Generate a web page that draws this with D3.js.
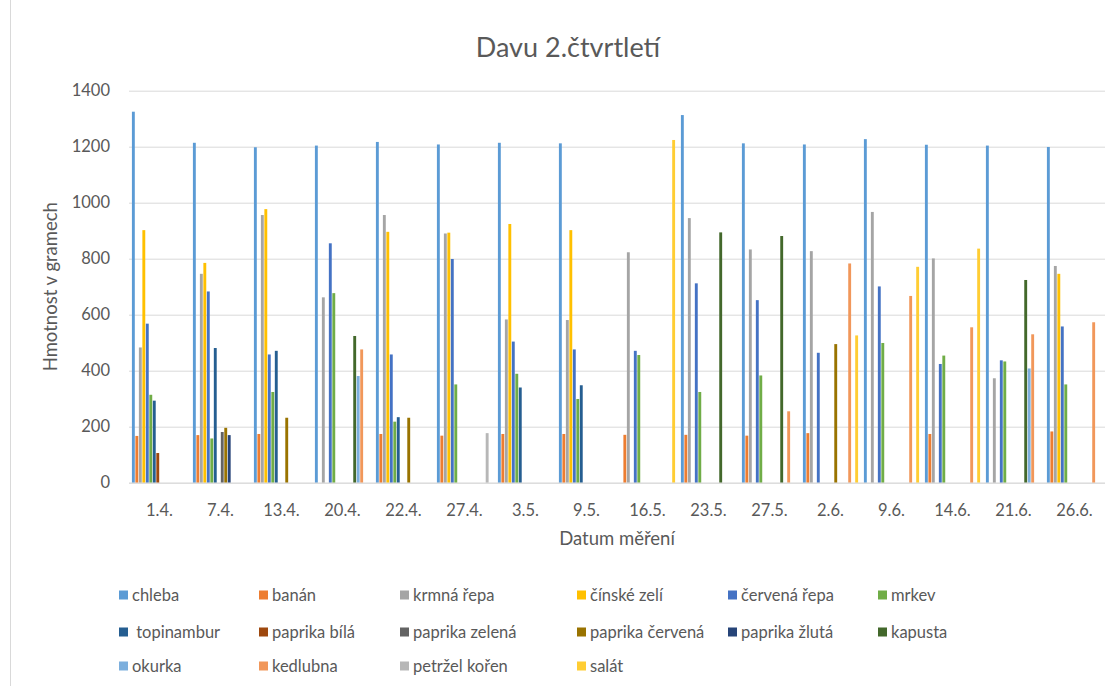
<!DOCTYPE html>
<html>
<head>
<meta charset="utf-8">
<script src="https://cdn.jsdelivr.net/npm/d3@7"></script>
<style>
  body { margin: 0; background: #fff; }
  svg { display: block; font-family: Lato, "Open Sans", sans-serif; }
  .grid line { stroke: #d9d9d9; stroke-width: 1; }
  .grid path { display: none; }
  .tick text { fill: #595959; }
</style>
</head>
<body>
<svg></svg>
<script>
//-----------------
// DATA
//-----------------
var dates = ["1.4.", "7.4.", "13.4.", "20.4.", "22.4.", "27.4.", "3.5.", "9.5.",
             "16.5.", "23.5.", "27.5.", "2.6.", "9.6.", "14.6.", "21.6.", "26.6."];

var seriesNames = ["chleba", "banán", "krmná řepa", "čínské zelí", "červená řepa", "mrkev",
                   " topinambur", "paprika bílá", "paprika zelená", "paprika červená", "paprika žlutá", "kapusta",
                   "okurka", "kedlubna", "petržel kořen", "salát"];

var chleba         = [1325, 1214, 1198, 1204, 1217, 1208, 1214, 1212, null, 1313, 1212, 1208, 1227, 1207, 1204, 1199];
var banan          = [167, 170, 174, null, 174, 168, 174, 174, 171, 171, 168, 177, null, 174, null, 183];
var krmnaRepa      = [483, 746, 956, 662, 956, 890, 583, 581, 823, 945, 833, 827, 967, 801, 373, 774];
var cinskeZeli     = [902, 785, 977, null, 896, 893, 924, 902, null, null, null, null, null, null, null, 746];
var cervenaRepa    = [568, 683, 458, 855, 458, 799, 504, 476, 471, 712, 652, 464, 701, 424, 437, 558];
var mrkev          = [314, 158, 324, 677, 218, 351, 389, 299, 456, 324, 383, null, 499, 454, 433, 351];
var topinambur     = [293, 481, 471, null, 234, null, 340, 348, null, null, null, null, null, null, null, null];
var paprikaBila    = [106, null, null, null, null, null, null, null, null, null, null, null, null, null, null, null];
var paprikaZelena  = [null, 181, null, null, null, null, null, null, null, null, null, null, null, null, null, null];
var paprikaCervena = [null, 196, 232, null, 232, null, null, null, null, null, null, 495, null, null, null, null];
var paprikaZluta   = [null, 170, null, null, null, null, null, null, null, null, null, null, null, null, null, null];
var kapusta        = [null, null, null, 524, null, null, null, null, null, 894, 881, null, null, null, 724, null];
var okurka         = [null, null, null, 381, null, null, null, null, null, null, null, null, null, null, 408, null];
var kedlubna       = [null, null, null, 476, null, null, null, null, null, null, 255, 783, 667, 555, 530, 573];
var petrzelKoren   = [null, null, null, null, null, 177, null, null, null, null, null, null, null, null, null, null];
var salat          = [null, null, null, null, null, null, null, null, 1224, null, null, 526, 771, 836, null, null];

var seriesValues = [chleba, banan, krmnaRepa, cinskeZeli, cervenaRepa, mrkev,
                    topinambur, paprikaBila, paprikaZelena, paprikaCervena, paprikaZluta, kapusta,
                    okurka, kedlubna, petrzelKoren, salat];

var colors = ["#5B9BD5", "#ED7D31", "#A5A5A5", "#FFC000", "#4472C4", "#70AD47",
              "#255E91", "#9E480E", "#636363", "#997300", "#264478", "#43682B",
              "#7CAFDD", "#F1975A", "#B7B7B7", "#FFCD33"];

var yTicks = [0, 200, 400, 600, 800, 1000, 1200, 1400];

//-----------------
// LAYOUT
//-----------------
var width = 1118, height = 686;
var plot = { left: 129, right: 1105, top: 90.7, bottom: 482.7 };

var svg = d3.select("svg")
    .attr("width", width)
    .attr("height", height);

// chart border
svg.append("line")
    .attr("x1", 10.5).attr("x2", 10.5)
    .attr("y1", 0).attr("y2", height)
    .attr("stroke", "#d9d9d9");

var x0 = d3.scaleBand()
    .domain(dates)
    .range([plot.left, plot.right])
    .padding(0);

var x1 = d3.scaleBand()
    .domain(d3.range(seriesNames.length))
    .range([0, x0.bandwidth()])
    .paddingInner(0)
    .paddingOuter(0.75);

var y = d3.scaleLinear()
    .domain([0, 1400])
    .range([plot.bottom, plot.top]);

//-----------------
// GRID + Y AXIS
//-----------------
var yAxis = svg.append("g")
    .attr("class", "grid")
    .attr("transform", "translate(" + plot.left + ",0)")
    .call(d3.axisLeft(y)
        .tickValues(yTicks)
        .tickSize(-(plot.right - plot.left))
        .tickPadding(19)
        .tickFormat(d3.format("d")));
yAxis.selectAll("text")
    .style("font-size", "16.5px")
    .style("font-family", "Lato, sans-serif");

//-----------------
// BARS
//-----------------
var groups = svg.append("g").selectAll("g")
    .data(dates)
    .join("g")
    .attr("transform", d => "translate(" + x0(d) + ",0)");

groups.selectAll("rect")
    .data((d, i) => seriesValues.map((vals, s) => ({ s: s, v: vals[i] })).filter(e => e.v != null))
    .join("rect")
    .attr("x", d => x1(d.s) + 0.3)
    .attr("width", x1.bandwidth() - 0.6)
    .attr("y", d => y(d.v))
    .attr("height", d => y(0) - y(d.v))
    .attr("fill", d => colors[d.s]);

// category axis line
svg.append("line")
    .attr("x1", plot.left).attr("x2", plot.right)
    .attr("y1", plot.bottom + 0.5).attr("y2", plot.bottom + 0.5)
    .attr("stroke", "#d9d9d9");

// x labels
svg.append("g").selectAll("text")
    .data(dates)
    .join("text")
    .attr("x", d => x0(d) + x0.bandwidth() / 2)
    .attr("y", 516)
    .attr("text-anchor", "middle")
    .attr("fill", "#595959")
    .style("font-size", "16.5px")
    .text(d => d);

//-----------------
// TITLES
//-----------------
svg.append("text")
    .attr("x", 568).attr("y", 57)
    .attr("text-anchor", "middle")
    .attr("fill", "#595959")
    .style("font-size", "27px")
    .text("Davu 2.čtvrtletí");

svg.append("text")
    .attr("x", (plot.left + plot.right) / 2).attr("y", 545)
    .attr("text-anchor", "middle")
    .attr("fill", "#595959")
    .style("font-size", "18.5px")
    .text("Datum měření");

svg.append("text")
    .attr("transform", "translate(57," + ((plot.top + plot.bottom) / 2) + ") rotate(-90)")
    .attr("text-anchor", "middle")
    .attr("fill", "#595959")
    .style("font-size", "18.5px")
    .text("Hmotnost v gramech");

//-----------------
// LEGEND
//-----------------
var legendCols = [119, 259, 400, 577, 728, 878];
var legendRows = [595, 632, 666];

var legend = svg.append("g").selectAll("g")
    .data(seriesNames)
    .join("g")
    .attr("transform", (d, i) => "translate(" + legendCols[i % 6] + "," + legendRows[Math.floor(i / 6)] + ")");

legend.append("rect")
    .attr("x", 0).attr("y", -4.5)
    .attr("width", 9).attr("height", 9)
    .attr("fill", (d, i) => colors[i]);

legend.append("text")
    .attr("x", 13).attr("y", 6)
    .attr("fill", "#595959")
    .style("font-size", "16.5px")
    .style("white-space", "pre")
    .text(d => d);
</script>
</body>
</html>
